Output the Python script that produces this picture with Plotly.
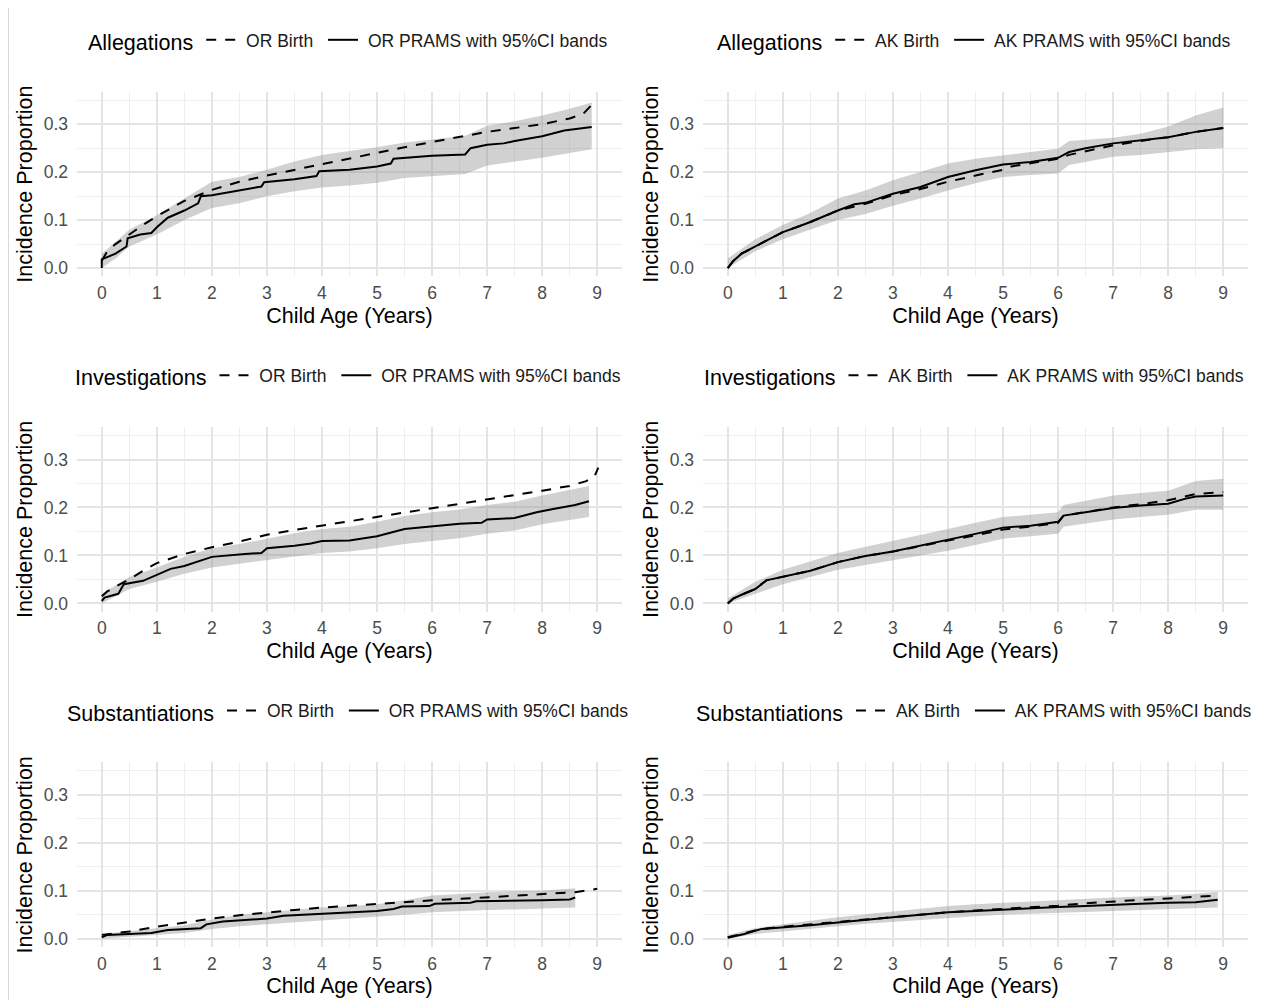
import plotly.graph_objects as go

FONT = "Liberation Sans, Arial, sans-serif"

# ---------------- text / ticks ----------------
OUTCOMES = ["Allegations", "Investigations", "Substantiations"]
STATES = ["OR", "AK"]
X_TICKS = [0, 1, 2, 3, 4, 5, 6, 7, 8, 9]
Y_TICKS = [0.0, 0.1, 0.2, 0.3]
Y_TICK_LABELS = ["0.0", "0.1", "0.2", "0.3"]
X_TITLE = "Child Age (Years)"
Y_TITLE = "Incidence Proportion"
X_RANGE = [-0.45, 9.45]
Y_RANGE = [-0.0175, 0.3675]

# ---------------- OR Allegations ----------------
or_alleg_birth_x = [0, 0.1, 0.25, 0.5, 0.75, 1, 1.5, 2, 2.5, 3, 3.5, 4, 4.5, 5, 5.5, 6, 6.5, 7, 7.5, 8, 8.5, 8.75, 8.88]
or_alleg_birth_y = [0.015, 0.035, 0.05, 0.07, 0.09, 0.108, 0.14, 0.163, 0.18, 0.193, 0.205, 0.217, 0.229, 0.241, 0.252, 0.263, 0.274, 0.284, 0.292, 0.300, 0.312, 0.322, 0.338]
or_alleg_prams_x = [0, 0, 0.25, 0.45, 0.47, 0.7, 0.9, 1.0, 1.2, 1.5, 1.75, 1.8, 2.0, 2.3, 2.6, 2.9, 2.95, 3.5, 3.9, 3.95, 4.5, 5.0, 5.25, 5.3, 6.0, 6.6, 6.7, 7.0, 7.3, 7.5, 8.0, 8.4, 8.9]
or_alleg_prams_y = [0.0, 0.018, 0.03, 0.045, 0.062, 0.07, 0.073, 0.085, 0.105, 0.12, 0.135, 0.15, 0.152, 0.158, 0.165, 0.17, 0.179, 0.185, 0.192, 0.202, 0.205, 0.212, 0.218, 0.228, 0.234, 0.237, 0.25, 0.257, 0.26, 0.265, 0.275, 0.287, 0.294]
or_alleg_lo_x = [0, 0.25, 0.5, 1, 1.5, 2, 2.5, 3, 3.5, 4, 4.5, 5, 5.5, 6, 6.6, 7, 7.5, 8, 8.5, 8.9]
or_alleg_lo_y = [0.0, 0.02, 0.045, 0.07, 0.1, 0.125, 0.135, 0.15, 0.16, 0.168, 0.172, 0.178, 0.188, 0.192, 0.196, 0.214, 0.222, 0.23, 0.24, 0.248]
or_alleg_hi_y = [0.03, 0.055, 0.08, 0.11, 0.145, 0.18, 0.19, 0.205, 0.222, 0.236, 0.244, 0.252, 0.262, 0.268, 0.276, 0.297, 0.306, 0.318, 0.332, 0.345]

# ---------------- AK Allegations ----------------
ak_alleg_birth_x = [0, 0.1, 0.25, 0.5, 1, 1.5, 2, 2.5, 3, 3.5, 4, 4.5, 5, 5.15, 5.5, 6, 6.2, 6.5, 7, 7.5, 8, 8.5, 9]
ak_alleg_birth_y = [0.0, 0.015, 0.03, 0.045, 0.075, 0.096, 0.12, 0.134, 0.152, 0.165, 0.18, 0.193, 0.205, 0.212, 0.219, 0.228, 0.236, 0.243, 0.256, 0.265, 0.273, 0.284, 0.292]
ak_alleg_prams_x = [0, 0.1, 0.25, 0.5, 0.75, 1, 1.25, 1.5, 2, 2.3, 2.5, 3, 3.5, 4, 4.5, 5, 5.5, 6, 6.2, 6.5, 7, 7.5, 8, 8.5, 9]
ak_alleg_prams_y = [0.0, 0.015, 0.03, 0.045, 0.06, 0.075, 0.085, 0.096, 0.12, 0.133, 0.136, 0.155, 0.169, 0.19, 0.204, 0.216, 0.221, 0.23, 0.242, 0.25, 0.26, 0.266, 0.273, 0.284, 0.292]
ak_alleg_lo_x = [0, 0.5, 1, 1.5, 2, 2.5, 3, 3.5, 4, 4.5, 5, 5.5, 6, 6.2, 7, 7.5, 8, 8.5, 9]
ak_alleg_lo_y = [0.0, 0.035, 0.06, 0.08, 0.1, 0.113, 0.13, 0.145, 0.162, 0.177, 0.19, 0.194, 0.197, 0.215, 0.232, 0.236, 0.242, 0.248, 0.25]
ak_alleg_hi_y = [0.02, 0.06, 0.09, 0.115, 0.145, 0.162, 0.183, 0.2, 0.218, 0.228, 0.235, 0.242, 0.249, 0.265, 0.272, 0.28, 0.295, 0.318, 0.335]

# ---------------- OR Investigations ----------------
or_inv_birth_x = [0, 0.1, 0.25, 0.5, 0.75, 1, 1.5, 2, 2.5, 3, 3.5, 4, 4.5, 5, 5.5, 6, 6.5, 7, 7.5, 8, 8.5, 8.8, 8.95, 9.02]
or_inv_birth_y = [0.015, 0.025, 0.035, 0.05, 0.068, 0.084, 0.103, 0.117, 0.129, 0.143, 0.153, 0.162, 0.172, 0.181, 0.19, 0.199, 0.207, 0.216, 0.225, 0.235, 0.245, 0.255, 0.265, 0.283]
or_inv_prams_x = [0, 0.05, 0.3, 0.4, 0.75, 1.0, 1.25, 1.5, 1.9, 2.0, 2.6, 2.9, 3.0, 3.5, 3.8, 4.0, 4.5, 5.0, 5.5, 6.0, 6.5, 6.9, 7.0, 7.5, 7.9, 8.2, 8.6, 8.85]
or_inv_prams_y = [0.005, 0.012, 0.02, 0.04, 0.047, 0.06, 0.072, 0.078, 0.092, 0.097, 0.103, 0.105, 0.115, 0.12, 0.125, 0.13, 0.131, 0.14, 0.155, 0.16, 0.166, 0.168, 0.175, 0.178, 0.19, 0.197, 0.205, 0.213]
or_inv_lo_x = [0, 0.5, 1, 1.5, 2, 2.5, 3, 3.5, 4, 4.5, 5, 5.5, 6, 6.5, 7, 7.5, 8, 8.5, 8.85]
or_inv_lo_y = [0.0, 0.03, 0.045, 0.062, 0.075, 0.083, 0.09, 0.098, 0.105, 0.108, 0.115, 0.124, 0.13, 0.136, 0.145, 0.152, 0.165, 0.173, 0.18]
or_inv_hi_y = [0.02, 0.055, 0.075, 0.097, 0.115, 0.124, 0.135, 0.146, 0.155, 0.16, 0.17, 0.182, 0.19, 0.196, 0.205, 0.212, 0.225, 0.236, 0.245]

# ---------------- AK Investigations ----------------
ak_inv_birth_x = [0, 0.1, 0.25, 0.5, 0.7, 1, 1.5, 2, 2.5, 3, 3.5, 4, 4.5, 5, 5.5, 6, 6.1, 6.5, 7, 7.5, 8, 8.5, 9]
ak_inv_birth_y = [0.0, 0.01, 0.018, 0.03, 0.048, 0.055, 0.068, 0.086, 0.099, 0.108, 0.12, 0.131, 0.142, 0.154, 0.16, 0.168, 0.183, 0.19, 0.2, 0.207, 0.215, 0.228, 0.232]
ak_inv_prams_x = [0, 0.1, 0.25, 0.5, 0.7, 1, 1.5, 2, 2.5, 3, 3.5, 4, 4.5, 5, 5.5, 6, 6.1, 6.5, 7, 7.5, 8, 8.3, 8.5, 9]
ak_inv_prams_y = [0.0, 0.01, 0.018, 0.03, 0.048, 0.055, 0.068, 0.086, 0.099, 0.108, 0.12, 0.133, 0.145, 0.158, 0.162, 0.17, 0.183, 0.19, 0.199, 0.204, 0.208, 0.218, 0.223, 0.225]
ak_inv_lo_x = [0, 0.5, 1, 1.5, 2, 2.5, 3, 3.5, 4, 4.5, 5, 5.5, 6, 6.1, 7, 7.5, 8, 8.5, 9]
ak_inv_lo_y = [0.0, 0.02, 0.04, 0.055, 0.07, 0.08, 0.09, 0.1, 0.11, 0.122, 0.135, 0.14, 0.145, 0.16, 0.175, 0.18, 0.185, 0.195, 0.195]
ak_inv_hi_y = [0.01, 0.045, 0.07, 0.088, 0.105, 0.118, 0.13, 0.142, 0.155, 0.168, 0.18, 0.185, 0.19, 0.205, 0.225, 0.23, 0.235, 0.255, 0.26]

# ---------------- OR Substantiations ----------------
or_sub_birth_x = [0, 0.5, 1, 1.5, 2, 2.5, 3, 3.5, 4, 4.5, 5, 5.5, 6, 6.5, 7, 7.5, 8, 8.6, 9.0]
or_sub_birth_y = [0.008, 0.015, 0.025, 0.034, 0.042, 0.049, 0.055, 0.06, 0.065, 0.069, 0.073, 0.077, 0.08, 0.083, 0.086, 0.09, 0.093, 0.097, 0.104]
or_sub_prams_x = [0, 0.1, 0.9, 1.2, 1.8, 1.9, 2.2, 3.0, 3.3, 4.0, 4.5, 5.0, 5.3, 5.45, 5.95, 6.05, 6.7, 6.8, 8.0, 8.5, 8.6]
or_sub_prams_y = [0.003, 0.008, 0.012, 0.018, 0.022, 0.03, 0.036, 0.042, 0.048, 0.052, 0.055, 0.058, 0.062, 0.067, 0.068, 0.073, 0.075, 0.078, 0.08, 0.082, 0.086]
or_sub_lo_x = [0, 0.5, 1, 1.5, 2, 2.5, 3, 3.5, 4, 4.5, 5, 5.5, 6, 6.5, 7, 7.5, 8, 8.6]
or_sub_lo_y = [0.0, 0.004, 0.008, 0.012, 0.02, 0.026, 0.03, 0.034, 0.038, 0.041, 0.045, 0.05, 0.055, 0.058, 0.06, 0.061, 0.063, 0.065]
or_sub_hi_y = [0.01, 0.016, 0.022, 0.028, 0.04, 0.05, 0.055, 0.06, 0.065, 0.068, 0.072, 0.08, 0.09, 0.093, 0.097, 0.099, 0.1, 0.105]

# ---------------- AK Substantiations ----------------
ak_sub_birth_x = [0, 0.3, 0.6, 1, 1.5, 2, 2.5, 3, 3.5, 4, 4.5, 5, 5.5, 6, 6.5, 7, 7.5, 8, 8.5, 8.9]
ak_sub_birth_y = [0.003, 0.011, 0.02, 0.025, 0.03, 0.036, 0.041, 0.046, 0.051, 0.055, 0.059, 0.062, 0.066, 0.069, 0.074, 0.078, 0.081, 0.084, 0.087, 0.09]
ak_sub_prams_x = [0, 0.3, 0.6, 1, 1.5, 2, 2.5, 3, 3.5, 4, 4.5, 5, 5.5, 6, 6.5, 7, 7.5, 8, 8.5, 8.9]
ak_sub_prams_y = [0.002, 0.01, 0.02, 0.023, 0.028, 0.034, 0.04, 0.045, 0.05, 0.055, 0.058, 0.061, 0.063, 0.066, 0.068, 0.071, 0.073, 0.075, 0.076, 0.081]
ak_sub_lo_x = [0, 0.5, 1, 1.5, 2, 2.5, 3, 3.5, 4, 4.5, 5, 5.5, 6, 6.5, 7, 7.5, 8, 8.5, 8.9]
ak_sub_lo_y = [0.0, 0.01, 0.015, 0.021, 0.026, 0.031, 0.035, 0.04, 0.044, 0.047, 0.05, 0.052, 0.054, 0.056, 0.058, 0.06, 0.062, 0.063, 0.065]
ak_sub_hi_y = [0.008, 0.022, 0.03, 0.038, 0.045, 0.051, 0.057, 0.063, 0.068, 0.072, 0.075, 0.078, 0.08, 0.083, 0.086, 0.088, 0.09, 0.094, 0.098]

PANELS = [
    ("Allegations", "OR", or_alleg_birth_x, or_alleg_birth_y, or_alleg_prams_x, or_alleg_prams_y, or_alleg_lo_x, or_alleg_lo_y, or_alleg_hi_y),
    ("Allegations", "AK", ak_alleg_birth_x, ak_alleg_birth_y, ak_alleg_prams_x, ak_alleg_prams_y, ak_alleg_lo_x, ak_alleg_lo_y, ak_alleg_hi_y),
    ("Investigations", "OR", or_inv_birth_x, or_inv_birth_y, or_inv_prams_x, or_inv_prams_y, or_inv_lo_x, or_inv_lo_y, or_inv_hi_y),
    ("Investigations", "AK", ak_inv_birth_x, ak_inv_birth_y, ak_inv_prams_x, ak_inv_prams_y, ak_inv_lo_x, ak_inv_lo_y, ak_inv_hi_y),
    ("Substantiations", "OR", or_sub_birth_x, or_sub_birth_y, or_sub_prams_x, or_sub_prams_y, or_sub_lo_x, or_sub_lo_y, or_sub_hi_y),
    ("Substantiations", "AK", ak_sub_birth_x, ak_sub_birth_y, ak_sub_prams_x, ak_sub_prams_y, ak_sub_lo_x, ak_sub_lo_y, ak_sub_hi_y),
]

# ---------------- layout geometry (window pixels; page body has an 8px margin) ----------------
OFF = 8
W, H = 1257, 994
COL_X = [(77, 622), (703, 1248)]
ROW_Y = [(92, 277), (428, 613), (764, 949)]
LEGEND_Y = [41, 377, 713]


def px_x(p):
    return (p - OFF) / W


def px_y(p):
    return 1 - (p - OFF) / H


BAND = "rgba(140,140,140,0.40)"
LINE = "#000000"
NBSP = "\u00a0"

fig = go.Figure()
layout = {}
for i, (outcome, st, bx, by, px, py, lx, ly, hy) in enumerate(PANELS):
    r, c = divmod(i, 2)
    n = i + 1
    xa = "x" if n == 1 else f"x{n}"
    ya = "y" if n == 1 else f"y{n}"
    lg = "legend" if n == 1 else f"legend{n}"

    fig.add_trace(go.Scatter(x=lx, y=ly, mode="lines", line=dict(width=0),
                             showlegend=False, hoverinfo="skip", xaxis=xa, yaxis=ya, legend=lg))
    fig.add_trace(go.Scatter(x=lx, y=hy, mode="lines", line=dict(width=0),
                             fill="tonexty", fillcolor=BAND,
                             showlegend=False, hoverinfo="skip", xaxis=xa, yaxis=ya, legend=lg))
    fig.add_trace(go.Scatter(x=bx, y=by, mode="lines", name=NBSP + f"{st} Birth" + NBSP,
                             line=dict(color=LINE, width=2, dash="10px,9px"),
                             xaxis=xa, yaxis=ya, legend=lg, legendrank=1))
    fig.add_trace(go.Scatter(x=px, y=py, mode="lines", name=NBSP + f"{st} PRAMS with 95%CI bands",
                             line=dict(color=LINE, width=2),
                             xaxis=xa, yaxis=ya, legend=lg, legendrank=2))

    x0, x1 = COL_X[c]
    y0, y1 = ROW_Y[r]
    xkey = "xaxis" if n == 1 else f"xaxis{n}"
    ykey = "yaxis" if n == 1 else f"yaxis{n}"
    layout[xkey] = dict(
        domain=[px_x(x0), px_x(x1)], anchor=ya, range=X_RANGE,
        tickmode="array", tickvals=X_TICKS, ticktext=[str(t) for t in X_TICKS],
        showgrid=True, gridcolor="#e4e4e4", gridwidth=1.6,
        minor=dict(dtick=0.5, tick0=0, showgrid=True, gridcolor="#eeeeee", gridwidth=1.2),
        zeroline=False, showline=False, ticks="",
        tickfont=dict(family=FONT, size=17.5, color="#4d4d4d"),
        ticklabelstandoff=4,
        title=dict(text=X_TITLE, font=dict(family=FONT, size=21.5, color="#000000"), standoff=5),
        fixedrange=True,
    )
    layout[ykey] = dict(
        domain=[px_y(y1), px_y(y0)], anchor=xa, range=Y_RANGE,
        tickmode="array", tickvals=Y_TICKS, ticktext=Y_TICK_LABELS,
        showgrid=True, gridcolor="#e4e4e4", gridwidth=1.6,
        minor=dict(dtick=0.05, tick0=0, showgrid=True, gridcolor="#eeeeee", gridwidth=1.2),
        zeroline=False, showline=False, ticks="",
        tickfont=dict(family=FONT, size=17.5, color="#4d4d4d"),
        ticklabelstandoff=8,
        title=dict(text=Y_TITLE, font=dict(family=FONT, size=21.5, color="#000000"), standoff=5),
        fixedrange=True,
    )
    layout[lg] = dict(
        orientation="h", x=px_x((x0 + x1) / 2), xanchor="center",
        y=px_y(LEGEND_Y[r]), yanchor="middle", traceorder="normal",
        title=dict(text=outcome, side="left", font=dict(family=FONT, size=21.5, color="#000000")),
        font=dict(family=FONT, size=17.5, color="#1a1a1a"),
        bgcolor="rgba(0,0,0,0)", borderwidth=0, itemwidth=30,
    )

fig.update_layout(
    width=W, height=H, margin=dict(l=0, r=0, t=0, b=0),
    paper_bgcolor="white", plot_bgcolor="white",
    font=dict(family=FONT),
    shapes=[dict(type="line", xref="paper", yref="paper", x0=0.5 / W, x1=0.5 / W, y0=0, y1=1,
                 line=dict(color="#d9d9d9", width=1))],
    **layout,
)

fig.write_html("out.html")
